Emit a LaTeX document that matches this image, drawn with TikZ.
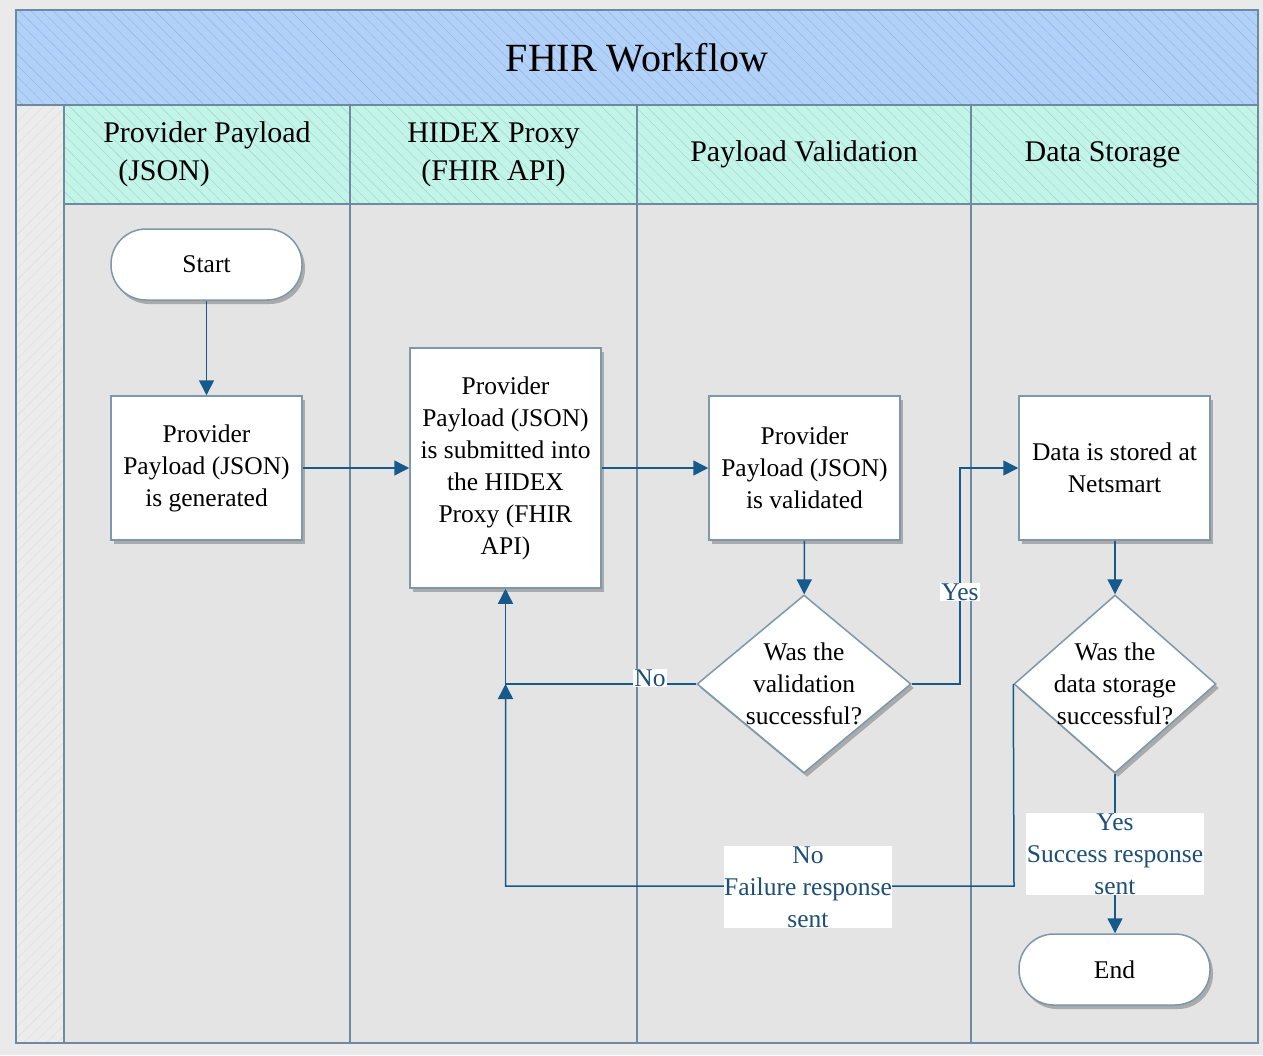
\documentclass[tikz,border=0pt]{standalone}
\usepackage{fontspec}
\setmainfont{Liberation Serif}
\usetikzlibrary{shapes.geometric,arrows.meta,shadows,patterns.meta}
\definecolor{pagebg}{HTML}{EAEAEA}
\definecolor{titlecol}{HTML}{B1D1F8}
\definecolor{hdrcol}{HTML}{C2F5E8}
\definecolor{bodycol}{HTML}{E4E4E4}
\definecolor{stripcol}{HTML}{ECECEC}
\definecolor{framecol}{HTML}{6E8AA0}
\definecolor{nodeline}{HTML}{7E97AA}
\definecolor{arrcol}{HTML}{155A8A}
\definecolor{lblcol}{HTML}{1D4F78}
\tikzset{
  bodyfont/.style={font=\fontsize{25.5}{32}\selectfont},
  hatchA/.style={preaction={fill=#1},preaction={pattern={Lines[angle=-45,distance=8pt,line width=0.4pt]},pattern color=#1!94!blue!90!black}},
  hatchB/.style={preaction={fill=#1},preaction={pattern={Lines[angle=45,distance=8pt,line width=0.4pt]},pattern color=#1!94!black}},
  titlebox/.style={draw=framecol,line width=1.5pt,hatchA=titlecol,minimum width=1242pt,minimum height=95pt,inner sep=0pt,font=\fontsize{40}{46}\selectfont},
  hdr/.style={draw=framecol,line width=1.5pt,hatchA=hdrcol,minimum height=99pt,inner sep=0pt,align=center,font=\fontsize{30}{38}\selectfont},
  lanebody/.style={draw=framecol,line width=1.5pt,fill=bodycol},
  procbox/.style={draw=nodeline,line width=1.5pt,fill=white,minimum width=191pt,minimum height=144pt,inner sep=0pt,align=center,bodyfont,drop shadow={shadow xshift=3pt,shadow yshift=-4pt,opacity=0.25,fill=black}},
  termbox/.style={procbox,minimum height=71pt,rounded corners=35pt},
  decision/.style={diamond,draw=nodeline,line width=1.5pt,fill=white,minimum width=214pt,minimum height=178pt,inner sep=0pt,drop shadow={shadow xshift=3pt,shadow yshift=-4pt,opacity=0.25,fill=black}},
  dtext/.style={align=center,bodyfont,inner sep=0pt},
  arr/.style={draw=arrcol,line width=1.5pt,-{Triangle[width=15pt,length=15pt]},fill=none},
  lbl/.style={fill=white,text=lblcol,bodyfont,align=center,inner sep=1pt}
}
\begin{document}
\begin{tikzpicture}[x=1pt,y=-1pt]
\useasboundingbox (0,0) rectangle (1263,1055);
\fill[pagebg] (0,0) rectangle (1263,1055);
% lane bodies
\draw[lanebody] (64,204) rectangle (350,1043);
\draw[lanebody] (350,204) rectangle (637,1043);
\draw[lanebody] (637,204) rectangle (971,1043);
\draw[lanebody] (971,204) rectangle (1258,1043);
\draw[draw=framecol,line width=1.5pt,hatchB=stripcol] (16,105) rectangle (64,1043);
% title
\node[titlebox] (title) at (637,57.5) {FHIR Workflow};
% headers
\node[hdr,minimum width=286pt,align=left] (h1) at (207,154.5) {Provider Payload\\\hspace*{15pt}(JSON)};
\node[hdr,minimum width=287pt] (h2) at (493.5,154.5) {HIDEX Proxy\\(FHIR API)};
\node[hdr,minimum width=334pt] (h3) at (804,154.5) {Payload Validation};
\node[hdr,minimum width=287pt] (h4) at (1114.5,154.5) {Data Storage\hspace*{24pt}};
\draw[framecol,line width=2pt] (16,10) rectangle (1258,1043);
% nodes
\node[termbox] (start) at (206.5,264.5) {Start};
\node[procbox] (b1) at (206.5,468) {Provider\\Payload (JSON)\\is generated};
\node[procbox,minimum height=240pt] (b2) at (505.5,468) {Provider\\Payload (JSON)\\is submitted into\\the HIDEX\\Proxy (FHIR\\API)};
\node[procbox] (b3) at (804.5,468) {Provider\\Payload (JSON)\\is validated};
\node[decision] (d1) at (804,684) {};
\node[dtext] (d1t) at (804,684) {Was the\\validation\\successful?};
\node[procbox] (b4) at (1114.5,468) {Data is stored at\\Netsmart};
\node[decision,minimum width=202pt] (d2) at (1115,684) {};
\node[dtext] (d2t) at (1115,684) {Was the\\data storage\\successful?};
\node[termbox] (end) at (1114.5,969.5) {End};
% helper coordinates
\coordinate (yesbend) at (960,684);
\coordinate (join) at (505.5,684);
\coordinate (faildown) at (1014,886);
% connectors
\draw[arr] (start) -- (b1);
\draw[arr] (b1) -- (b2);
\draw[arr] (b2.east |- b3.west) -- (b3.west);
\draw[arr] (b3) -- (d1);
\draw[arr] (d1.east) -- (yesbend) |- (b4.west);
\draw[arr] (d1.west) -| (b2.south);
\draw[arr] (d2.west) -- (faildown) -| (join);
\draw[arr] (b4.south -| d2.north) -- (d2.north);
\draw[arr] (d2.south) -- (end.north -| d2.south);
% labels
\node[lbl] (lyes) at (960,592) {Yes};
\node[lbl] (lno) at (650,678) {No};
\node[lbl,inner sep=0.5pt] (lfail) at (808,887) {No\\Failure response\\sent};
\node[lbl,inner sep=0.5pt] (lsucc) at (1115,854) {Yes\\Success response\\sent};
\end{tikzpicture}
\end{document}
